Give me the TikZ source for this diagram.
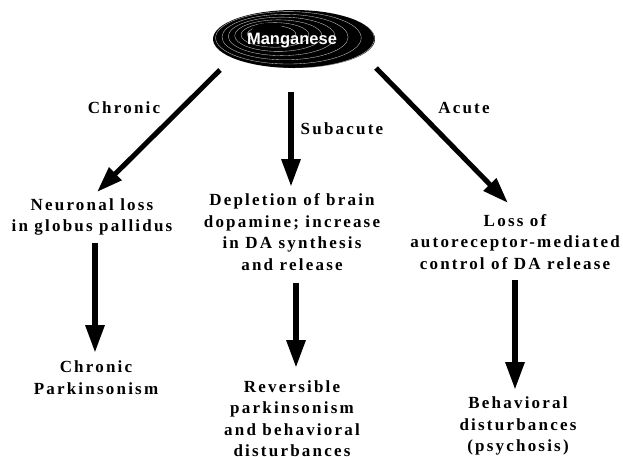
\documentclass[tikz,border=0pt]{standalone}
\usepackage{fontspec}
\setmainfont{Liberation Serif}
\newfontfamily\lblfont[LetterSpace=13]{Liberation Serif Bold}
\newfontfamily\mnfont{Liberation Sans Bold}
\usetikzlibrary{arrows.meta}
\begin{document}
\begin{tikzpicture}[x=1pt,y=-1pt,
  txt/.style={align=center,inner sep=0pt,font={\lblfont\fontsize{17}{21.5}\selectfont}},
  bigarrow/.style={line width=6pt,-{Triangle[length=28pt,width=18pt]}},
  diagarrow/.style={line width=5pt,-{Triangle[length=26pt,width=17pt]}}]
\useasboundingbox (0,0) rectangle (623,456);
% Manganese ellipse
\fill[black] (294,39) ellipse [x radius=81, y radius=29];
\begin{scope}
\clip (294,39) ellipse [x radius=81, y radius=29];
\foreach \r in {0.2,0.32,0.44,0.56,0.68,0.8,0.92}{
  \draw[gray!40,line width=0.35pt] ({266+28*\r},{33+6*\r}) ellipse [x radius={81*\r+8}, y radius={29*\r+3}];
}
\fill[black] (268,30) ellipse [x radius=16, y radius=7];
\end{scope}
\node[text=white,font={\mnfont\fontsize{16.5}{18}\selectfont},inner sep=0pt] (mn) at (292,41) {Manganese};
% text nodes
\node[txt] (neur) at (92,217) {Neuronal loss\\in globus pallidus};
\node[txt] (depl) at (292,232) {Depletion of brain\\dopamine; increase\\in DA synthesis\\and release};
\node[txt] (loss) at (515,242) {Loss of\\autoreceptor-mediated\\control of DA release};
\node[txt] (chpk) at (96,377.5) {Chronic\\Parkinsonism};
\node[txt] (revp) at (292,418.5) {Reversible\\parkinsonism\\and behavioral\\disturbances};
\node[txt] (behv) at (518,426) {Behavioral\\disturbances\\(psychosis)};
% labels
\node[txt] (lchr) at (124,108) {Chronic};
\node[txt] (lsub) at (342,129) {Subacute};
\node[txt] (lacu) at (464,108) {Acute};
% arrow end points
\coordinate (c1) at (220,70);
\coordinate (c1e) at (97,192);
\coordinate (s1) at (291,92);
\coordinate (s1e) at (291,187);
\coordinate (a1) at (376,68);
\coordinate (a1e) at (508,203);
\coordinate (n1) at (95,243);
\coordinate (n1e) at (95,353);
\coordinate (d1) at (296,283);
\coordinate (d1e) at (296,368);
\coordinate (l1) at (515,280);
\coordinate (l1e) at (515,390);
\draw[diagarrow] (c1) -- (c1e);
\draw[bigarrow] (s1) -- (s1e);
\draw[diagarrow] (a1) -- (a1e);
\draw[bigarrow] (n1) -- (n1e);
\draw[bigarrow] (d1) -- (d1e);
\draw[bigarrow] (l1) -- (l1e);
\end{tikzpicture}
\end{document}
